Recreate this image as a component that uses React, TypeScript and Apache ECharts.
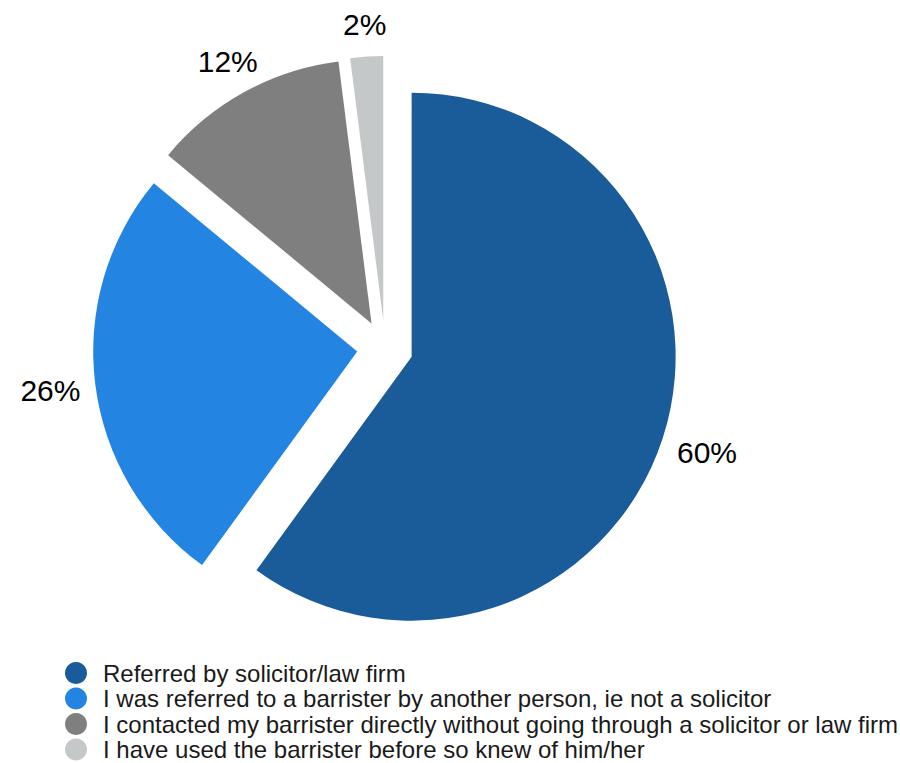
import React, { useEffect, useRef } from "react";
import * as echarts from "echarts";

const categories = [
  "Referred by solicitor/law firm",
  "I was referred to a barrister by another person, ie not a solicitor",
  "I contacted my barrister directly without going through a solicitor or law firm",
  "I have used the barrister before so knew of him/her",
];
const values = [60, 26, 12, 2];
const colors = ["#1A5B99", "#2384E2", "#7E7F7E", "#C5C8C9"];

const FONT = 'Arial, "Liberation Sans", sans-serif';

export default function App() {
  const ref = useRef<HTMLDivElement>(null);
  useEffect(() => {
    if (!ref.current) return;
    const chart = echarts.init(ref.current, null, { renderer: "svg" });
    const center = [385, 348];
    const radius = 264;
    const offset = 28;
    const ringMid = 303;
    const labelGap = 12;
    const total = values.reduce((a, b) => a + b, 0);
    const midAngle = (i: number) => {
      let cum = 0;
      for (let k = 0; k < i; k++) cum += values[k];
      cum += values[i] / 2;
      return (cum / total) * Math.PI * 2;
    };
    chart.setOption({
      animation: false,
      backgroundColor: "#ffffff",
      textStyle: { fontFamily: FONT },
      legend: {
        orient: "vertical",
        left: 65,
        top: 661,
        height: 140,
        padding: 0,
        icon: "circle",
        itemWidth: 44,
        itemHeight: 22,
        itemGap: 1.5,
        selectedMode: false,
        data: categories,
        textStyle: { fontFamily: FONT, fontSize: 24, color: "#1a1a1a", lineHeight: 22 },
      },
      series: [
        {
          type: "pie",
          center,
          radius,
          startAngle: 90,
          clockwise: true,
          selectedMode: "multiple",
          selectedOffset: offset,
          silent: true,
          label: { show: false },
          labelLine: { show: false },
          emphasis: { disabled: true },
          select: { itemStyle: { borderWidth: 0 } },
          data: categories.map((name, i) => ({
            name,
            value: values[i],
            selected: true,
            itemStyle: { color: colors[i] },
          })),
        },
        {
          type: "pie",
          center,
          radius: [ringMid - 5, ringMid + 5],
          startAngle: 90,
          clockwise: true,
          selectedMode: "multiple",
          selectedOffset: offset,
          silent: true,
          itemStyle: { color: "rgba(0,0,0,0)" },
          select: { itemStyle: { borderWidth: 0, color: "rgba(0,0,0,0)" } },
          emphasis: { disabled: true },
          label: {
            show: true,
            position: "inside",
            formatter: "{c}%",
            fontFamily: FONT,
            fontSize: 30,
            lineHeight: 34,
            color: "#000000",
            rotate: 0,
          },
          labelLine: { show: false },
          labelLayout: (params: any) => {
            const a = midAngle(params.dataIndex);
            const ux = Math.sin(a);
            const uy = -Math.cos(a);
            const w = params.labelRect.width;
            const h = params.labelRect.height;
            const ex = Math.abs(ux) > 1e-6 ? w / 2 / Math.abs(ux) : Infinity;
            const ey = Math.abs(uy) > 1e-6 ? h / 2 / Math.abs(uy) : Infinity;
            const ext = Math.min(ex, ey);
            const delta = radius + labelGap + ext - ringMid;
            return { dx: ux * delta, dy: uy * delta };
          },
          data: categories.map((name, i) => ({
            name,
            value: values[i],
            selected: true,
          })),
        },
      ],
    });
    return () => chart.dispose();
  }, []);
  return (
    <div
      ref={ref}
      style={{ position: "absolute", left: 0, top: 0, width: 900, height: 763 }}
    />
  );
}
